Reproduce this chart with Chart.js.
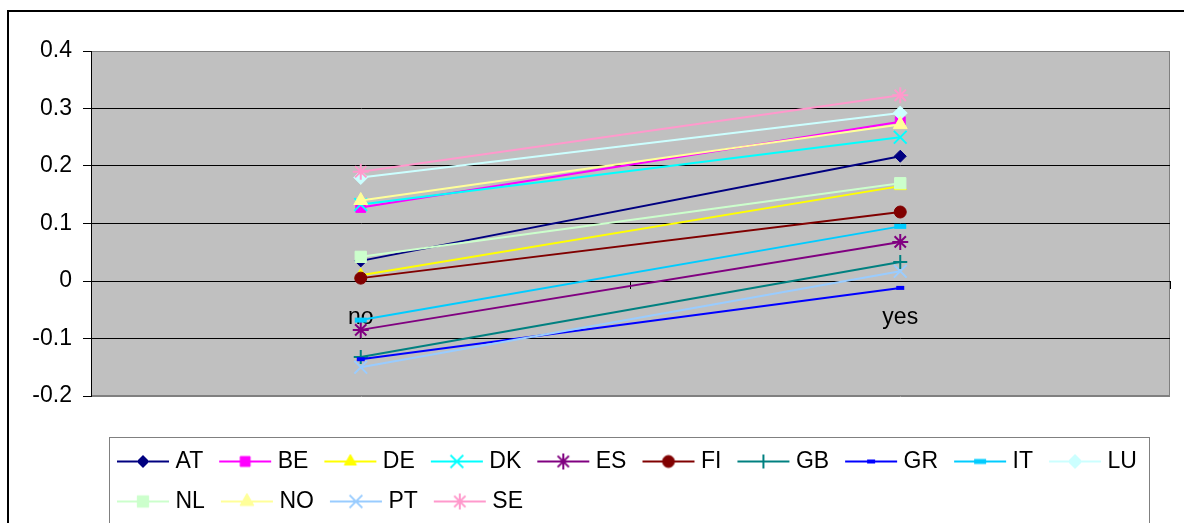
<!DOCTYPE html>
<html>
<head>
<meta charset="utf-8">
<script src="https://cdn.jsdelivr.net/npm/chart.js@4"></script>
<style>
  html, body { margin: 0; padding: 0; background: #fff; }
  #wrap { width: 1184px; height: 523px; }
</style>
</head>
<body>
<div id="wrap"><canvas id="chart" width="1184" height="523"></canvas></div>
<script>
const xLabels = ['no', 'yes'];
const yTickLabels = ['-0.2', '-0.1', '0', '0.1', '0.2', '0.3', '0.4'];
const countries = ['AT', 'BE', 'DE', 'DK', 'ES', 'FI', 'GB', 'GR', 'IT', 'LU', 'NL', 'NO', 'PT', 'SE'];

const AT = [0.035, 0.217];
const BE = [0.128, 0.277];
const DE = [0.010, 0.165];
const DK = [0.133, 0.250];
const ES = [-0.085, 0.068];
const FI = [0.005, 0.120];
const GB = [-0.132, 0.033];
const GR = [-0.136, -0.012];
const IT = [-0.068, 0.095];
const LU = [0.180, 0.292];
const NL = [0.042, 0.170];
const NO = [0.140, 0.272];
const PT = [-0.150, 0.017];
const SE = [0.190, 0.323];
const values = [AT, BE, DE, DK, ES, FI, GB, GR, IT, LU, NL, NO, PT, SE];

// marker look per series (Excel default palette)
const looks = [
  { color: '#000080', style: 'rectRot', r: 6, bw: 1 },
  { color: '#FF00FF', style: 'rect', r: 7, bw: 1 },
  { color: '#FFFF00', style: 'triangle', r: 7, bw: 1 },
  { color: '#00FFFF', style: 'crossRot', r: 9, bw: 2 },
  { color: '#800080', style: 'star', r: 8, bw: 2 },
  { color: '#800000', style: 'circle', r: 6, bw: 1 },
  { color: '#008080', style: 'cross', r: 7, bw: 2 },
  { color: '#0000FF', style: 'line', r: 4, bw: 4 },
  { color: '#00CCFF', style: 'line', r: 6, bw: 5 },
  { color: '#CCFFFF', style: 'rectRot', r: 7, bw: 1 },
  { color: '#CCFFCC', style: 'rect', r: 8, bw: 1 },
  { color: '#FFFF99', style: 'triangle', r: 8, bw: 1 },
  { color: '#99CCFF', style: 'crossRot', r: 9, bw: 2 },
  { color: '#FF99CC', style: 'star', r: 8, bw: 2 }
];

Chart.defaults.font.family = "'Liberation Sans', Arial, sans-serif";
Chart.defaults.color = '#000';

// legend icon: short line with the marker in the middle
function legendIcon(look) {
  const c = document.createElement('canvas');
  c.width = 58; c.height = 24;
  const g = c.getContext('2d');
  g.strokeStyle = look.color;
  g.lineWidth = 2;
  g.beginPath(); g.moveTo(5, 12); g.lineTo(57, 12); g.stroke();
  g.fillStyle = look.color;
  g.lineWidth = look.bw;
  Chart.helpers.drawPoint(g, { pointStyle: look.style, radius: look.r, borderWidth: look.bw, rotation: 0 }, 31, 12);
  return c;
}

const datasets = countries.map((name, i) => ({
  label: name,
  data: values[i],
  borderColor: looks[i].color,
  backgroundColor: looks[i].color,
  borderWidth: 2,
  pointStyle: looks[i].style,
  pointRadius: looks[i].r,
  pointBorderWidth: looks[i].bw,
  pointHoverRadius: looks[i].r,
  order: -i,
  tension: 0
}));

const frame = {
  id: 'frame',
  afterLayout(chart) {
    chart.legend.left += 10;
    chart.legend.right += 10;
  },
  beforeDraw(chart) {
    const { ctx, chartArea: a } = chart;
    ctx.save();
    ctx.fillStyle = '#fff';
    ctx.fillRect(0, 0, chart.width, chart.height);
    ctx.strokeStyle = '#000';
    ctx.lineWidth = 2;
    ctx.strokeRect(8, 11, chart.width, chart.height);
    ctx.fillStyle = '#C0C0C0';
    ctx.fillRect(a.left, a.top, a.right - a.left, a.bottom - a.top);
    ctx.strokeStyle = '#808080';
    ctx.lineWidth = 1;
    ctx.strokeRect(a.left + 0.5, a.top + 0.5, a.right - a.left - 1, a.bottom - a.top - 1);
    ctx.restore();
  },
  afterDraw(chart) {
    const { ctx, legend } = chart;
    ctx.save();
    ctx.strokeStyle = '#808080';
    ctx.lineWidth = 1;
    ctx.strokeRect(legend.left + 8.5, legend.top + 41.5, chart.width - 35 - legend.left - 8, chart.height);
    ctx.restore();
  }
};

new Chart(document.getElementById('chart'), {
  type: 'line',
  data: { labels: xLabels, datasets },
  options: {
    responsive: false,
    animation: false,
    layout: { padding: { left: 0, top: 51, right: 14, bottom: 0 } },
    scales: {
      x: {
        type: 'category',
        offset: true,
        position: { y: 0 },
        z: 1,
        grid: { drawOnChartArea: false, offset: true, tickLength: 7, color: '#000', tickColor: '#000' },
        border: { color: '#000', width: 1 },
        ticks: { padding: 16, font: { size: 23 }, maxRotation: 0 }
      },
      y: {
        min: -0.2,
        max: 0.4,
        afterFit: s => { s.width = 91; },
        grid: {
          tickLength: 8,
          tickColor: '#000',
          color: c => (c.index === 0 || c.index === 6) ? '#808080' : '#000'
        },
        border: { color: '#000', width: 1 },
        ticks: {
          stepSize: 0.1,
          padding: 11,
          font: { size: 23 },
          callback: (v, i) => yTickLabels[i]
        }
      }
    },
    plugins: {
      tooltip: { enabled: false },
      legend: {
        position: 'bottom',
        align: 'start',
        fullSize: false,
        title: { display: true, text: '', font: { size: 1, lineHeight: 1 }, padding: { top: 36, bottom: 0 } },
        labels: {
          usePointStyle: true,
          pointStyleWidth: 46,
          boxHeight: 23,
          padding: 17,
          font: { size: 23 },
          color: '#000',
          generateLabels: chart => chart.data.datasets.map((ds, i) => ({
            text: ds.label,
            pointStyle: legendIcon(looks[i]),
            datasetIndex: i,
            hidden: false,
            lineWidth: 0,
            fillStyle: ds.backgroundColor,
            strokeStyle: ds.borderColor,
            fontColor: '#000'
          }))
        }
      }
    }
  },
  plugins: [frame]
});
</script>
</body>
</html>
